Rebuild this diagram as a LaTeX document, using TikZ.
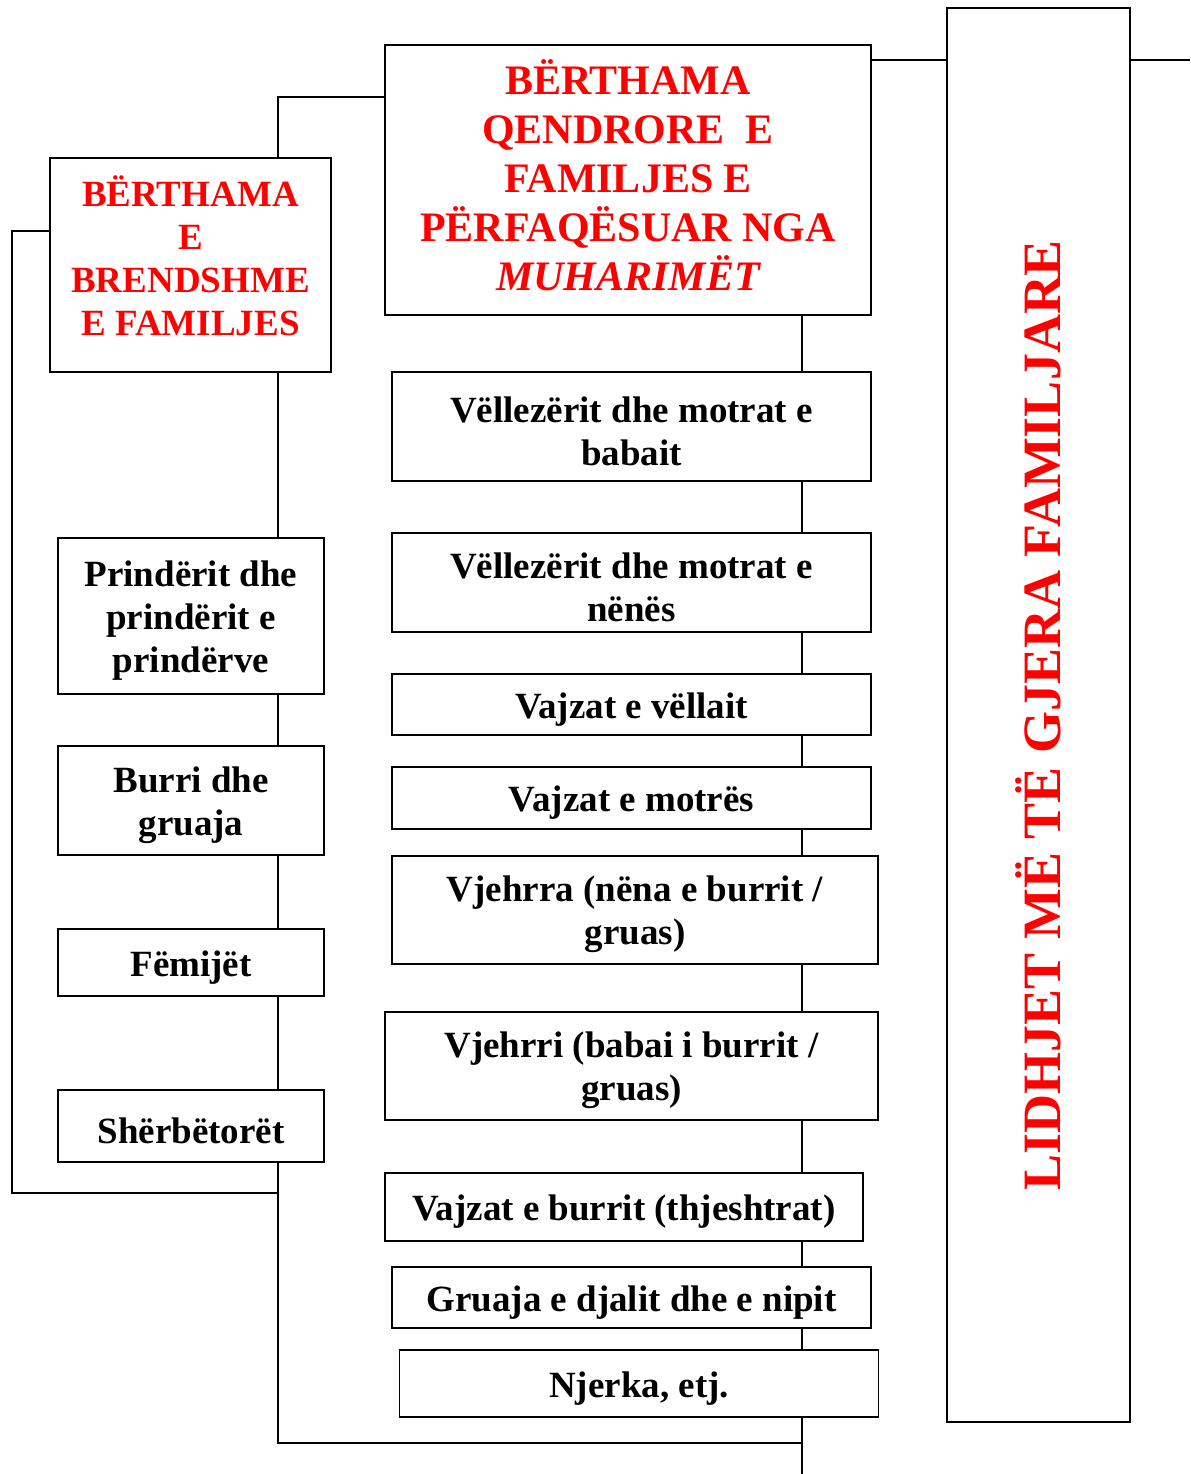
\documentclass[tikz,border=0pt]{standalone}
\usepackage{fontspec}
\setmainfont{Liberation Serif}
\usepackage{tikz}
\newcommand{\nisja}{\rule{0pt}{17.5pt}}

\begin{document}
\begin{tikzpicture}[x=0.5pt,y=-0.5pt,line width=0.7pt,
  kuti/.style 2 args={draw, minimum width=#1*0.5pt, minimum height=#2*0.5pt, inner sep=0pt, align=center, font=\bfseries\fontsize{18.5}{21.5}\selectfont},
  lidhje/.style={execute at begin node={\nisja}},
  berthama/.style={text=red, font=\bfseries\fontsize{21}{24.5}\selectfont}]
\useasboundingbox (0,0) rectangle (1190,1474);

% Text Node
\node [kuti={486}{270}, berthama] (qendrore) at (628,180) {BËRTHAMA\\QENDRORE\ \ E\\FAMILJES E\\PËRFAQËSUAR NGA\\\itshape MUHARIMËT\\[-19.5pt]};
% Text Node
\node [kuti={281}{214}, text=red] (brendshme) at (190.5,265) {BËRTHAMA\\E\\BRENDSHME\\E FAMILJES\\[-12.5pt]};
% Text Node
\node [kuti={183}{1414}] (lidhjet) at (1038.5,715) {\rotatebox{90}{\textcolor{red}{\fontsize{27}{30}\selectfont LIDHJET MË TË GJERA FAMILJARE}}};

% Text Node
\node [kuti={266}{156}] (prinderit) at (191,616) {\nisja Prindërit dhe\\prindërit e\\prindërve};
% Text Node
\node [kuti={266}{109}] (burri) at (191,800.5) {\nisja Burri dhe\\gruaja};
% Text Node
\node [kuti={266}{67}, lidhje] (femijet) at (191,962.5) {Fëmijët};
% Text Node
\node [kuti={266}{72}, lidhje] (sherbetoret) at (191,1126) {Shërbëtorët};

% Text Node
\node [kuti={479}{109}] (vbabait) at (631.5,426.5) {\nisja Vëllezërit dhe motrat e\\babait};
% Text Node
\node [kuti={479}{99}] (vnenes) at (631.5,582.5) {\nisja Vëllezërit dhe motrat e\\nënës};
% Text Node
\node [kuti={479}{61}, lidhje] (vvellait) at (631.5,704.5) {Vajzat e vëllait};
% Text Node
\node [kuti={479}{62}, lidhje] (vmotres) at (631.5,798) {Vajzat e motrës};
% Text Node
\node [kuti={486}{108}] (vjehrra) at (635,910) {\nisja Vjehrra (nëna e burrit /\\gruas)};
% Text Node
\node [kuti={493}{108}] (vjehrri) at (631.5,1066) {\nisja Vjehrri (babai i burrit /\\gruas)};
% Text Node
\node [kuti={478}{68}, lidhje] (thjeshtrat) at (624,1207) {Vajzat e burrit (thjeshtrat)};
% Text Node
\node [kuti={479}{61}, lidhje] (gruaja) at (631.5,1297.5) {Gruaja e djalit dhe e nipit};
% Text Node
\node [kuti={479}{67}, lidhje] (njerka) at (639,1383.5) {Njerka, etj.};

\coordinate (trungu) at (278,0);
\coordinate (trungm) at (802,0);
\coordinate (majtas) at (278,97);
\coordinate (lart) at (1190,60);
\coordinate (kthesa) at (12,231);
\coordinate (poshte) at (12,1193);
\coordinate (fundi) at (802,1443);

%Straight Lines
\draw (qendrore.west |- majtas) -- (majtas) -- (brendshme.north -| majtas);
\draw (qendrore.east |- lart) -- (lidhjet.west |- lart);
\draw (lidhjet.east |- lart) -- (lart);
\draw (brendshme.west |- kthesa) -- (kthesa) -- (poshte) -- (poshte -| trungu);

%Straight Lines
\draw (brendshme.south -| trungu) -- (prinderit.north -| trungu);
\draw (prinderit.south -| trungu) -- (burri.north -| trungu);
\draw (burri.south -| trungu) -- (femijet.north -| trungu);
\draw (femijet.south -| trungu) -- (sherbetoret.north -| trungu);
\draw (sherbetoret.south -| trungu) |- (fundi);

%Straight Lines
\draw (qendrore.south -| trungm) -- (vbabait.north -| trungm);
\draw (vbabait.south -| trungm) -- (vnenes.north -| trungm);
\draw (vnenes.south -| trungm) -- (vvellait.north -| trungm);
\draw (vvellait.south -| trungm) -- (vmotres.north -| trungm);
\draw (vmotres.south -| trungm) -- (vjehrra.north -| trungm);
\draw (vjehrra.south -| trungm) -- (vjehrri.north -| trungm);
\draw (vjehrri.south -| trungm) -- (thjeshtrat.north -| trungm);
\draw (thjeshtrat.south -| trungm) -- (gruaja.north -| trungm);
\draw (gruaja.south -| trungm) -- (njerka.north -| trungm);
\draw (njerka.south -| trungm) -- (trungm |- 0,1474);

\end{tikzpicture}
\end{document}
